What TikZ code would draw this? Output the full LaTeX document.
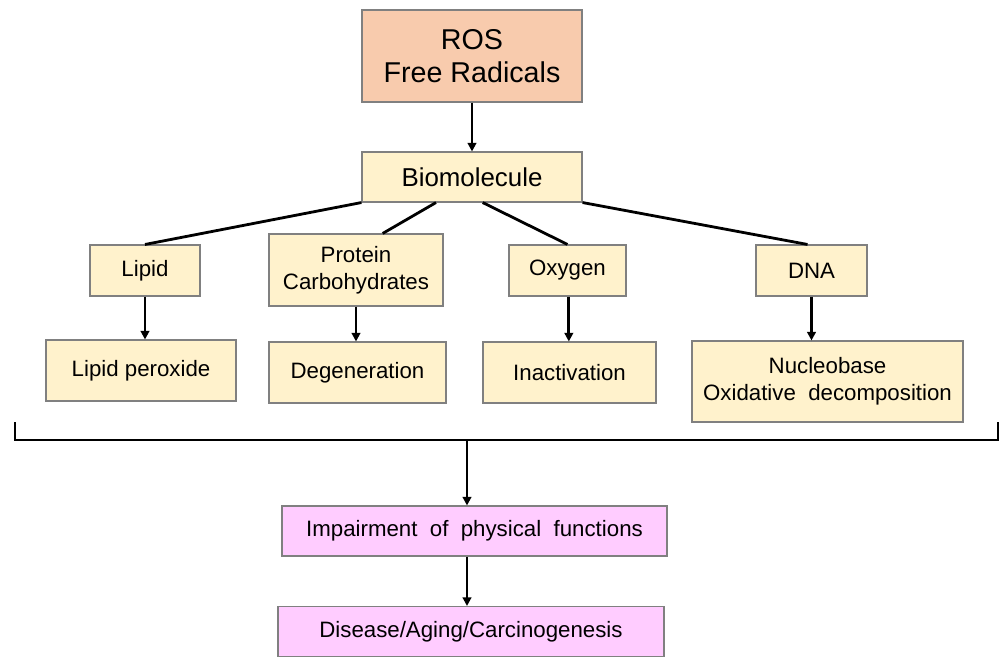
\documentclass[tikz,border=0pt]{standalone}
\usepackage{fontspec}
\setmainfont{Liberation Sans}
\usetikzlibrary{arrows.meta}
\definecolor{peach}{HTML}{F8CBAD}
\definecolor{cream}{HTML}{FFF2CC}
\definecolor{pinkbox}{HTML}{FFCCFF}
\definecolor{edgegray}{HTML}{808080}
\tikzset{
  box/.style={draw=edgegray, line width=0.8pt, fill=cream, inner sep=0pt, align=center, font=\fontsize{16.7}{20}\selectfont},
  conn/.style={line width=2.1pt, black},
  arr/.style={conn, -{Triangle[length=6.5pt,width=6.5pt]}},
}
\begin{document}
\begin{tikzpicture}[x=0.75pt,y=-0.75pt]
\useasboundingbox (0,0) rectangle (1000,657);
% top
\node[box, fill=peach, minimum width=165pt, minimum height=69pt, font=\fontsize{21.5}{25}\selectfont] (ros) at (472,56) {ROS\\Free Radicals};
\node[box, minimum width=165pt, minimum height=37.5pt, font=\fontsize{19.4}{23}\selectfont] (bio) at (472,177) {Biomolecule};
% second row
\node[box, minimum width=82.5pt, minimum height=38.25pt] (lipid) at (145,270.5) {Lipid};
\node[box, minimum width=130.5pt, minimum height=54pt] (prot) at (356,270) {Protein\\Carbohydrates};
\node[box, minimum width=87.75pt, minimum height=38.25pt] (oxy) at (567.5,270.5) {Oxygen};
\node[box, minimum width=83.25pt, minimum height=38.25pt] (dna) at (811.5,270.5) {DNA};
% third row
\node[box, minimum width=142.5pt, minimum height=45.75pt] (lperox) at (141,370.5) {Lipid peroxide};
\node[box, minimum width=132.75pt, minimum height=45.75pt] (degen) at (357.5,372.5) {Degeneration};
\node[box, minimum width=129.75pt, minimum height=45.75pt] (inact) at (569.5,372.5) {Inactivation};
\node[box, minimum width=203.25pt, minimum height=60.75pt] (nucl) at (827.5,381.5) {Nucleobase\\Oxidative\ \ decomposition};
% bottom
\node[box, fill=pinkbox, minimum width=288.75pt, minimum height=37.5pt] (imp) at (474.5,531) {Impairment\ \ of\ \ physical\ \ functions};
\node[box, fill=pinkbox, minimum width=289.5pt, minimum height=37.5pt] (dis) at (471,631.5) {Disease/Aging/Carcinogenesis};
% connectors
\draw[arr] (ros) -- (bio);
\draw[conn] (bio.south west) -- (lipid.north);
\draw[conn] ([xshift=-27pt]bio.south) -- ([xshift=20pt]prot.north);
\draw[conn] ([xshift=8pt]bio.south) -- (oxy.north);
\draw[conn] (bio.south east) -- ([xshift=-3pt]dna.north);
\draw[arr] (lipid.south) -- (lipid.south |- lperox.north);
\draw[arr] (prot.south) -- (prot.south |- degen.north);
\draw[arr] ([xshift=1pt]oxy.south) -- ([xshift=1pt]oxy.south |- inact.north);
\draw[arr] (dna.south) -- (dna.south |- nucl.north);
% bracket
\coordinate (bl) at (15,422);
\coordinate (br) at (998,422);
\coordinate (bm) at (467,440);
\draw[conn] (bl) -- (15,440) -- (998,440) -- (br);
\draw[arr] (bm) -- (bm |- imp.north);
\draw[arr] (imp.south -| bm) -- (dis.north -| bm);
\end{tikzpicture}
\end{document}
